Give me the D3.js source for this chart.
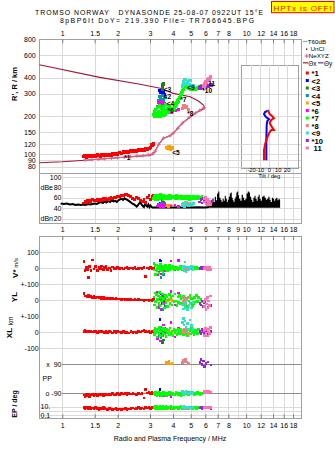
<!DOCTYPE html>
<html><head><meta charset="utf-8">
<script src="https://cdn.jsdelivr.net/npm/d3@7"></script>
<style>
body{margin:0;background:#fff;}
svg{display:block;}
text{font-family:"Liberation Sans",Arial,sans-serif;white-space:pre;}
</style>
</head><body>
<svg id="c" width="335" height="451"></svg>
<script>
// ---------------- DATA ----------------
const seriesLabels = ["*1","<2","<3","<4","<5","*6","*7","*8","<9","*10","11"];
const topTicks = [1,1.5,2,3,4,5,6,7,8,10,12,14,16,18];
const midTicks = [1,1.5,2,3,4,5,6,7,8,9,10,12,14,16,18];
const gridFreqs = [1,1.5,2,3,4,5,6,7,8,9,10,12,14,16,18];
const heightTicks = [800,600,400,300,200,150,120,100,90,80];
const dbTicks = [100,80,60,40,20];
const tiltTicks = [-20,-10,0,10,20];

const freqMHz = [
 [1.31,1.33,1.35,1.37,1.39,1.41,1.43,1.46,1.49,1.52,1.55,1.58,1.61,1.64,1.67,1.70,1.73,1.76,1.80,1.84,1.88,1.92,1.96,2.00,2.05,2.10,2.15,2.20,2.25,2.30,2.36,2.42,2.48,2.54,2.60,2.66,2.72,2.78,2.84,2.90,2.96,3.02,3.08,3.14],
 [3.4,3.44,3.48,3.52,3.56,3.6],
 [3.5,3.51,3.52,3.53,3.54],
 [3.35,3.4,3.45,3.5,3.56,3.62],
 [3.68,3.74,3.8,3.87,3.95],
 [3.3,3.35,3.4,3.45,3.5,3.55,3.6,3.9,4.1,4.3],
 [3.15,3.18,3.2,3.22,3.25,3.28,3.3,3.33,3.36,3.38,3.4,3.43,3.46,3.5,3.53,3.56,3.6,3.63,3.66,3.7,3.74,3.78,3.82,3.86,3.9,3.95,4.0,4.05,4.1,4.15,4.2,4.25,4.3,4.34,4.38,4.42,4.45,4.5,4.55,4.58,4.62,4.66,4.7,4.75,4.8,4.85,4.9,4.95,5.0,5.05,5.1,5.15,5.2,5.25,5.3,5.38,5.45,5.52,5.6,5.68,5.75],
 [4.5,4.55,4.6,4.68,4.75,4.85],
 [4.5,4.55,4.6,4.65,4.72,4.8,4.88,4.95,5.05,5.15],
 [5.6,5.68,5.75,5.85,5.95,6.05,6.2,6.45],
 [5.9,5.95,6.0,6.05,6.1,6.15,6.2,6.25,6.3,6.38]
];
const heightKm = [
 [96,97,95,97,96,98,97,96,98,97,99,98,97,99,98,100,99,98,100,99,101,100,102,101,103,102,104,103,105,104,106,105,107,106,108,107,109,108,110,109,111,113,118,121],
 [318,305,312,296,308,292],
 [322,332,342,352,360],
 [262,285,270,290,268,280],
 [113,111,114,110,112],
 [235,255,240,260,245,230,250,215,220,225],
 [205,215,198,225,210,200,232,218,205,240,212,198,228,215,203,235,222,208,245,218,228,212,235,222,230,226,223,230,238,248,255,262,268,276,285,295,305,315,325,335,345,350,355,348,338,334,330,328,325,322,328,334,330,326,325,330,332,336,338,342,346],
 [228,235,240,232,238,226],
 [345,370,355,385,360,375,350,380,342,348],
 [332,338,335,342,340,348,345,350],
 [345,360,352,372,365,385,378,395,390,405]
];
const ampDb = [
 [50,53,51,54,52,55,53,56,54,55,57,54,56,55,58,56,59,57,58,60,59,61,60,62,63,65,64,67,66,64,62,58,57,60,58,55,53,57,51,60,64,56,62,65],
 [50,62,48,55,52,58],
 [52,55,50,53,51],
 [48,45,50,47,46,49],
 [44,46,43,45,44],
 [44,46,43,48,45,42,47,44,46,43],
 [58,62,56,64,60,57,65,59,61,63,58,66,60,62,57,64,61,59,63,60,62,58,65,61,59,63,60,62,58,61,64,59,62,60,63,58,61,59,62,60,63,58,61,59,62,60,57,63,58,61,59,62,60,58,61,59,62,60,58,60,62],
 [48,50,46,52,47,49],
 [45,50,43,48,52,46,44,50,47,49],
 [52,56,50,58,54,51,55,53],
 [58,52,60,48,55,46,57,50,53,47]
];
const vStar = [
 [41,-12,5,-8,-56,10,-15,52,-5,12,-15,6,-3,15,-8,4,10,-6,2,-12,8,0,-4,6,-2,3,-5,1,4,-3,2,-1,5,-4,0,3,-2,4,-52,1,-3,6,-2,3],
 [50,45,-10,5,0,8],
 [0,8,-5,3,-2],
 [-30,10,-56,5,-40,-15],
 [2,-4,3,0,-2],
 [-42,-25,10,-35,15,-15,5,45,-10,48],
 [30,-10,15,-38,20,-15,0,10,-30,8,-8,25,-12,3,-25,12,-3,18,-6,7,-14,2,16,-9,4,-4,11,-7,6,-2,9,-11,3,-5,13,-3,5,-8,2,6,-4,8,-2,3,-6,4,-3,7,-5,2,-4,6,-2,5,-3,4,-1,3,-5,2,0],
 [5,-3,8,-6,2,0],
 [-5,10,-15,40,-20,8,-10,0,12,-8],
 [0,5,-3,8,-2,4,6,-4],
 [2,-5,6,-3,0,-8,4,-2,5,-6]
];
const yLoc = [
 [42,27,25,22,28,20,24,18,22,16,19,14,17,12,15,11,13,9,12,8,10,7,9,6,8,5,7,4,6,3,5,2,4,1,3,0,2,-1,1,0,-2,2,-4,5],
 [10,40,-20,5,-8,12],
 [5,-10,15,0,-5],
 [-50,-30,10,-60,-20,-40],
 [0,-5,4,2,-3],
 [50,-40,20,-60,35,-20,10,55,-30,45],
 [20,-30,45,-10,35,-45,5,25,-20,50,-35,15,-5,40,-25,10,-50,30,-15,20,-40,0,35,-20,15,-30,25,-10,40,-5,-35,20,-15,30,-25,10,-20,15,-10,25,-30,5,-15,10,-40,20,-5,30,-20,12,-35,8,-25,18,-12,28,-8,15,-18,5,-10],
 [20,-10,10,-25,5,15],
 [-30,-55,-20,-45,-10,-60,-35,-25,-50,-15],
 [-20,-30,-5,-40,-15,-25,-45,-35],
 [-10,-40,5,-60,-25,15,-50,-5,-35,25]
];
const xLoc = [
 [5,8,3,6,2,7,4,0,5,2,-3,4,1,6,0,-4,3,-2,5,0,-5,2,-3,4,-1,-4,2,-2,0,-5,3,-3,1,-2,4,0,6,10,2,-1,3,-4,5,0],
 [77,-10,20,5,-5,10],
 [-68,-60,-55,-65,-50],
 [-20,15,-35,5,-10,25],
 [3,-2,5,0,-4],
 [-40,20,-55,30,-20,45,-10,60,-30,25],
 [10,-15,25,-5,15,-30,0,20,-10,30,-20,5,-25,15,-8,22,-12,8,-28,18,-5,12,-18,25,-10,5,-22,15,-3,10,-15,20,-8,3,-12,18,-6,10,-14,6,-2,12,-8,4,-20,16,-5,9,-12,22,-7,3,-15,11,-4,8,-10,14,-6,2,5],
 [10,-5,20,0,15,-10],
 [60,85,45,70,30,55,20,75,40,15],
 [5,-10,15,0,-5,10,-15,5],
 [10,-20,25,-5,15,-25,5,20,-10,30]
];
const polPP = [
 [-100,-108,-96,-104,-98,-110,-101,-97,-106,-99,-103,-95,-100,-97,-104,-99,-95,-101,-97,-99,-93,-100,-96,-92,-98,-90,-95,-93,-97,-90,-95,-92,-94,-97,-90,-94,-92,-118,-66,-88,-84,-92,-86,-94],
 [-66,-92,-88,-95,-90,-97],
 [-95,-90,-100,-92,-96],
 [-95,-90,-100,-92,-97,-88],
 [100,95,108,92,96],
 [-100,-95,-105,-98,-92,-103,-97,-110,-96,-101],
 [-88,-95,-100,-85,-92,-105,-90,-97,-83,-99,-94,-87,-102,-91,-96,-86,-100,-93,-89,-104,-92,-97,-85,-95,-90,-101,-88,-94,-99,-86,-93,-91,-97,-88,-95,-102,-90,-93,-87,-96,-92,-89,-95,-91,-84,-98,-90,-93,-86,-95,-89,-92,-97,-88,-94,-90,-85,-93,-96,-89,-92],
 [100,115,108,121,105,96],
 [-80,-90,-85,-95,-78,-88,-92,-83,-90,-86],
 [100,121,90,110,75,95,105,85],
 [-82,-78,-85,-80,-88,-76,-83,-79,-86,-81]
];
const epDeg = [
 [6,4,8,5,3,7,4,5,3,6,4,2,5,3,6,4,3,2,4,3,2,3,4,2,3,2,3,4,2,3,4,5,3,4,6,4,5,3,6,5,7,4,6,8],
 [5,6,4,7,5,6],
 [5,6,4,5,6],
 [5,4,6,5,3,4],
 [5,4,6,5,4],
 [4,6,3,5,7,4,5,3,6,4],
 [8,5,12,4,7,10,3,6,9,5,11,4,7,6,10,3,8,5,12,4,7,9,5,6,10,4,8,3,7,5,9,6,4,8,5,10,6,4,7,5,8,6,9,5,7,4,6,8,5,9,4,6,7,5,8,4,6,9,5,7,6],
 [6,5,7,4,6,5],
 [8,6,10,5,9,7,6,8,5,7],
 [5,7,4,6,8,5,6,4],
 [6,8,5,9,7,6,8,5,7,6]
];
// trace annotation anchors (freq MHz, height km)
const labelFreq = [2.17,3.56,3.56,3.7,3.96,3.74,4.38,4.78,4.78,5.77,6.22];
const labelHeight = [90,270,306,238,99,213,258,200,322,305,342];

// model profile (maroon) and NeXYZ profile (pink)
const profileFreq = [0.75,1.0,1.33,2.0,3.0,3.15,3.35,3.55,3.86,4.0,4.5,5.3,5.9,5.94,5.86,5.5,4.96,4.02,3.41,2.65,1.6,0.75];
const profileHeight = [86,87.5,90,94,98,102,120,134,140,146,176,211,228,232,244,262,283,301,330,355,402,505];
const neFreq = [1.33,1.45,1.57,1.7,1.85,2.0,2.17,2.35,2.55,2.75,2.95,3.1,3.2,3.35,3.55,3.86,4.0,4.25,4.5,4.9,5.3,5.6,5.9];
const neHeight = [90,90.8,91.6,92.4,93.2,94,95,96,97,98,99,101,106,120,134,140,146,160,176,195,211,222,232];

// tilt profiles
const thetaXHeight = [90,108,122,136,148,155,155,167,177,186,192,200,207,216,223];
const thetaXDeg = [-5.9,-5.9,-4.4,-2.2,0,2.2,5.2,2.2,0.4,2.2,5.2,3.0,0.4,-0.7,-2.2];
const thetaYHeight = [90,130,170,183,189,196,207,215,219];
const thetaYDeg = [-3.3,-3.3,-2.9,-2.2,-0.3,-3.7,-5.9,-4.8,-2.2];

// noise (black)
const noiseFreq = [0.98,1.02,1.06,1.1,1.14,1.18,1.22,1.26,1.3,1.34,1.38,1.42,1.46,1.5,1.54,1.58,1.62,1.66,1.7,1.74,1.78,1.82,1.86,1.9,1.94,1.98,2.02,2.06,2.1,2.14,2.18,2.22,2.26,2.3,2.34,2.38,2.42,2.46,2.5,2.54,2.58,2.62,2.66,2.7,2.74,2.78,2.82,2.86,2.9,2.94,2.98,3.02,3.06,3.1,3.2,3.5,4.0,4.5,5.0,5.5,6.0,6.3];
const noiseDb = [49,48,49,47,48,46,47,46,47,46,48,47,48,49,48,50,52,50,53,51,54,52,55,53,54,52,55,57,58,56,59,57,56,54,52,50,48,47,45,43,46,49,51,47,44,42,48,45,43,47,42,45,42,41,41,41.5,41,41.5,41,41.5,41,42];
const spikeFreq = [6.3,6.45,6.55,6.65,6.75,6.85,6.95,7.05,7.15,7.25,7.35,7.45,7.55,7.65,7.75,7.85,7.95,8.05,8.15,8.25,8.35,8.45,8.55,8.65,8.75,8.85,8.95,9.05,9.15,9.3,9.45,9.6,9.75,9.9,10.05,10.2,10.35,10.5,10.65,10.8,10.95,11.1,11.25,11.4,11.55,11.7,11.85,12.0,12.2,12.4,12.6,12.8,13.0,13.2,13.4,13.6,13.8,14.0,14.2,14.4,14.6,14.8,15.0,15.2,15.3];
const spikeDb = [44,50,58,52,62,55,68,72,60,56,52,58,54,64,58,52,56,62,68,70,60,55,52,58,62,70,72,65,58,54,66,60,55,58,68,72,70,62,56,52,60,64,58,54,62,66,58,54,62,64,60,56,58,62,56,52,60,58,54,58,60,55,58,56,42];

// ---------------- STYLE ----------------
const seriesColors = ["#ff0000","#0000ff","#208020","#009a9a","#ffa000","#ff00ff","#00ff00","#f08080","#30e0d0","#9820e0","#ff70b0"];
const GRID = "#dadada", BOX = "#a0a0a0", TXT = "#000";

// ---------------- CHART ----------------
const svg = d3.select("#c");
svg.append("rect").attr("width",335).attr("height",451).attr("fill","#fff");
const px = v => Math.round(v) + 0.5;

const L = 39.3, R = 301.5;
const topY = 39.3, sepY = 172.5, dbBot = 223, lowTop = 236, lowBot = 418.3;

const x = d3.scaleLog().domain([0.75, 20]).range([L, R]);
const yMain = d3.scaleLog().domain([80, 800]).range([166.7, 39.3]);
const yDb = d3.scaleLinear().domain([20, 100]).range([218.5, 177]);
const yV = d3.scaleLinear().domain([-100, 100]).range([284.3, 252.3]);
const yYL = d3.scaleLinear().domain([-100, 100]).range([316, 284.3]);
const yXL = d3.scaleLinear().domain([-100, 100]).range([348, 316]);
const yPP = d3.scaleLinear().domain([-90, 90]).range([393.3, 364.3]);
const yEP = d3.scaleLog().domain([0.1, 10]).range([415.3, 406.7]);
const xTilt = d3.scaleLinear().domain([-20, 20]).range([251.3, 287.3]);

const g = svg.append("g");

[[topY, dbBot], [lowTop, lowBot]].forEach(([a, b]) => {
  g.selectAll(null).data(gridFreqs).enter().append("line")
    .attr("x1", d => px(x(d))).attr("x2", d => px(x(d)))
    .attr("y1", a).attr("y2", b).attr("stroke", GRID).attr("stroke-width", 1);
});
g.selectAll(null).data(heightTicks).enter().append("line")
  .attr("x1", L).attr("x2", R).attr("y1", d => px(yMain(d))).attr("y2", d => px(yMain(d)))
  .attr("stroke", GRID);
g.selectAll(null).data(dbTicks).enter().append("line")
  .attr("x1", 62).attr("x2", R).attr("y1", d => px(yDb(d))).attr("y2", d => px(yDb(d)))
  .attr("stroke", GRID);
const lowLines = [yV(100), yV(0), yV(-100), yYL(0), yXL(0), yXL(-100), yEP(10), yEP(1), yEP(0.1)];
g.selectAll(null).data(lowLines).enter().append("line")
  .attr("x1", L).attr("x2", R).attr("y1", d => px(d)).attr("y2", d => px(d)).attr("stroke", GRID);
g.selectAll(null).data([90, -90]).enter().append("line")
  .attr("x1", 62).attr("x2", R).attr("y1", d => px(yPP(d))).attr("y2", d => px(yPP(d)))
  .attr("stroke", "#8c8c8c");

g.append("rect").attr("x", px(L)).attr("y", px(topY)).attr("width", Math.round(R - L)).attr("height", Math.round(dbBot - topY))
  .attr("fill", "none").attr("stroke", BOX);
g.append("line").attr("x1", L).attr("x2", R).attr("y1", px(sepY)).attr("y2", px(sepY)).attr("stroke", BOX);
g.append("rect").attr("x", px(L)).attr("y", px(lowTop)).attr("width", Math.round(R - L)).attr("height", Math.round(lowBot - lowTop))
  .attr("fill", "none").attr("stroke", BOX);

function styleAxis(sel) {
  sel.select(".domain").remove();
  sel.attr("font-family", "Liberation Sans, Arial, sans-serif").attr("font-size", 7);
  sel.selectAll("line").attr("stroke", "#808080");
  sel.selectAll("text").attr("fill", TXT);
}
const fmt = d => String(d);
svg.append("g").attr("transform", `translate(0,${topY})`)
  .call(d3.axisTop(x).tickValues(topTicks).tickFormat(fmt).tickSizeOuter(0).tickSizeInner(-4).tickPadding(3.6)).call(styleAxis);
svg.append("g").attr("transform", `translate(0,${lowTop})`)
  .call(d3.axisTop(x).tickValues(midTicks).tickFormat(fmt).tickSizeOuter(0).tickSizeInner(-4).tickPadding(4.4)).call(styleAxis);
svg.append("g").attr("transform", `translate(0,${lowBot})`)
  .call(d3.axisBottom(x).tickValues(topTicks).tickFormat(fmt).tickSizeOuter(0).tickSizeInner(-4).tickPadding(4.6)).call(styleAxis);
svg.append("g").attr("transform", `translate(${L},0)`)
  .call(d3.axisLeft(yMain).tickValues(heightTicks).tickFormat(fmt).tickSize(0).tickPadding(3.6)).call(styleAxis);

function txt(s, xx, yy, opt = {}) {
  const t = svg.append("text").attr("x", xx).attr("y", yy).text(s)
    .attr("font-size", opt.size || 7).attr("fill", opt.fill || TXT)
    .attr("text-anchor", opt.anchor || "start");
  if (opt.weight) t.attr("font-weight", opt.weight);
  if (opt.family) t.attr("font-family", opt.family);
  if (opt.rot) t.attr("transform", `rotate(-90,${xx},${yy})`);
  if (opt.len) t.attr("textLength", opt.len);
  return t;
}
dbTicks.forEach(d => txt(String(d), 61.5, yDb(d) + 2.5, {anchor: "end"}));
txt("dBe", 40.5, yDb(80) + 2.5);
txt("dBn", 40.5, yDb(20) + 2.5);
txt("100", 38.6, yV(100) + 2.5, {anchor: "end"});
txt("0", 38.6, yV(0) + 2.5, {anchor: "end"});
txt("+-100", 38.6, yV(-100) + 2.5, {anchor: "end"});
txt("0", 38.6, yYL(0) + 2.5, {anchor: "end"});
txt("+-100", 38.6, yXL(100) + 2.5, {anchor: "end"});
txt("0", 38.6, yXL(0) + 2.5, {anchor: "end"});
txt("-100", 38.6, yXL(-100) + 2.5, {anchor: "end"});
txt("x  90", 61.5, yPP(90) + 2.5, {anchor: "end"});
txt("PP", 42.5, yPP(0) + 2.5);
txt("o -90", 61.5, yPP(-90) + 2.5, {anchor: "end"});
txt("10.", 40.5, yEP(10) + 2.5);
txt("0.1", 40.5, yEP(0.1) + 2.5);

txt("R', R / km", 17, 84, {rot: true, anchor: "middle", weight: "bold", size: 7.5});
const vs = svg.append("text").attr("transform", "rotate(-90,18,268)").attr("x", 18).attr("y", 268)
  .attr("text-anchor", "middle").attr("fill", TXT);
vs.append("tspan").text("V*").attr("font-size", 8).attr("font-weight", "bold");
vs.append("tspan").text(" m/s").attr("font-size", 6);
txt("YL", 17, 297, {rot: true, anchor: "middle", weight: "bold", size: 8});
txt("km", 13, 321, {rot: true, anchor: "middle", size: 6.5});
txt("XL", 12, 333, {rot: true, anchor: "middle", weight: "bold", size: 8});
txt("EP / deg", 16.5, 404, {rot: true, anchor: "middle", weight: "bold", size: 7});
txt("Radio and Plasma Frequency / MHz", 170, 440.5, {anchor: "middle", size: 7});

// ---------- main panel data ----------
const defs = svg.append("defs");
defs.append("clipPath").attr("id", "cm").append("rect")
  .attr("x", L).attr("y", topY).attr("width", R - L).attr("height", sepY - topY);
defs.append("clipPath").attr("id", "cl").append("rect")
  .attr("x", L).attr("y", lowTop).attr("width", R - L).attr("height", lowBot - lowTop);
const gm = svg.append("g").attr("clip-path", "url(#cm)");

const line = d3.line();
gm.append("path").attr("d", line(profileFreq.map((f, i) => [x(f), yMain(profileHeight[i])])))
  .attr("fill", "none").attr("stroke", "#a01838").attr("stroke-width", 1.1);
gm.append("path").attr("d", line(neFreq.map((f, i) => [x(f), yMain(neHeight[i])])))
  .attr("fill", "none").attr("stroke", "#e0608a").attr("stroke-width", 1.1);
neFreq.forEach((f, i) => {
  const cx = x(f), cy = yMain(neHeight[i]);
  gm.append("path").attr("d", `M${cx - 1.8},${cy}H${cx + 1.8}M${cx},${cy - 1.8}V${cy + 1.8}`)
    .attr("stroke", "#e0608a").attr("stroke-width", 1);
});

const points = [];
freqMHz.forEach((arr, s) => arr.forEach((f, i) => points.push({
  s, f, h: heightKm[s][i], db: ampDb[s][i], v: vStar[s][i], yl: yLoc[s][i], xl: xLoc[s][i], pp: polPP[s][i], ep: epDeg[s][i]
})));

function drawPts(parent, yfun, size) {
  parent.selectAll(null).data(points).enter().append("rect")
    .attr("x", d => x(d.f) - size / 2).attr("y", d => yfun(d) - size / 2)
    .attr("width", size).attr("height", size)
    .attr("fill", d => seriesColors[d.s]).attr("shape-rendering", "crispEdges");
}
drawPts(gm, d => yMain(d.h), 3.4);

seriesLabels.forEach((lab, s) => {
  svg.append("text").attr("x", x(labelFreq[s])).attr("y", yMain(labelHeight[s]))
    .text(lab).attr("font-size", 6.6).attr("font-weight", "bold").attr("fill", TXT);
});

// ---------- dB panel ----------
const gd = svg.append("g");
gd.append("path").attr("d", line(noiseFreq.map((f, i) => [x(f), yDb(noiseDb[i])])))
  .attr("fill", "none").attr("stroke", "#000").attr("stroke-width", 2);
gd.append("path").attr("d", d3.area().curve(d3.curveStepAfter)
    .x(d => d[0]).y0(yDb(40.5)).y1(d => d[1])(spikeFreq.map((f, i) => [x(f), yDb(spikeDb[i])])))
  .attr("fill", "#000");
drawPts(gd, d => yDb(d.db), 2.8);

// ---------- lower panel ----------
const gl = svg.append("g").attr("clip-path", "url(#cl)");
drawPts(gl, d => yV(d.v), 2.6);
drawPts(gl, d => yYL(d.yl), 2.6);
drawPts(gl, d => yXL(d.xl), 2.6);
drawPts(gl, d => yPP(d.pp), 2.6);
drawPts(gl, d => yEP(d.ep), 2.6);

// ---------- inset tilt ----------
const ix0 = 241.3, ix1 = 298, iy0 = 65, iy1 = 168.3;
const gi = svg.append("g");
gi.append("rect").attr("x", px(ix0)).attr("y", px(iy0)).attr("width", Math.round(ix1 - ix0)).attr("height", Math.round(iy1 - iy0))
  .attr("fill", "#fff").attr("stroke", BOX);
gi.selectAll(null).data(tiltTicks).enter().append("line")
  .attr("x1", d => px(xTilt(d))).attr("x2", d => px(xTilt(d))).attr("y1", iy0).attr("y2", iy1).attr("stroke", GRID);
gi.selectAll(null).data(heightTicks.filter(h => yMain(h) > iy0 && yMain(h) < iy1)).enter().append("line")
  .attr("x1", ix0).attr("x2", ix1).attr("y1", d => px(yMain(d))).attr("y2", d => px(yMain(d))).attr("stroke", GRID);
gi.append("path").attr("d", line(thetaYDeg.map((t, i) => [xTilt(t), yMain(thetaYHeight[i])])))
  .attr("fill", "none").attr("stroke", "#0000ff").attr("stroke-width", 2);
gi.append("path").attr("d", line(thetaXDeg.map((t, i) => [xTilt(t), yMain(thetaXHeight[i])])))
  .attr("fill", "none").attr("stroke", "#ff0000").attr("stroke-width", 2);
txt("-20-10", 255.8, 171.8, {anchor: "middle", size: 5.8});
[0, 10, 20].forEach(t => txt(String(t), xTilt(t), 171.8, {anchor: "middle", size: 5.8}));
txt("Tilt / deg", 269.3, 177.6, {anchor: "middle", size: 5.8});

// ---------- legend ----------
svg.append("line").attr("x1", 303).attr("x2", 307.5).attr("y1", 41.5).attr("y2", 41.5).attr("stroke", "#a0a0a0").attr("stroke-width", 1.2);
txt("T60dB", 307.8, 43.8, {size: 6.2});
svg.append("rect").attr("x", 306).attr("y", 48.5).attr("width", 1.3).attr("height", 1.3).attr("fill", "#000");
txt("UnCl", 310.5, 51.2, {size: 6.2});
svg.append("path").attr("d", "M304.5,56H309M306.75,53.8V58.2").attr("stroke", "#e0608a").attr("stroke-width", 1);
txt("NeXYZ", 308.8, 58.4, {size: 6.2});
svg.append("line").attr("x1", 303).attr("x2", 308).attr("y1", 62.8).attr("y2", 62.8).attr("stroke", "#a01838").attr("stroke-width", 1.2);
txt("Θx", 308.3, 65.6, {size: 6.4});
svg.append("line").attr("x1", 318).attr("x2", 323.5).attr("y1", 62.8).attr("y2", 62.8).attr("stroke", "#4040c0").attr("stroke-width", 1.2);
txt("Θy", 324, 65.6, {size: 6.4});
seriesLabels.forEach((lab, s) => {
  const cy = 73 + 7.5 * s;
  svg.append("rect").attr("x", 305.8).attr("y", cy - 1.5).attr("width", 3).attr("height", 3).attr("fill", seriesColors[s]);
  txt(s === 10 ? " " + lab : lab, 311.5, cy + 3, {size: 7.6, weight: "bold"});
});

// ---------- title ----------
txt("TROMSO NORWAY   DYNASONDE 25-08-07 0922UT 15°E", 35, 14.6, {family: "DejaVu Sans Mono", size: 6.9, len: 228});
txt("8pBP6It DoY= 219.390 File= TR766645.BPG", 60, 22.6, {family: "DejaVu Sans Mono", size: 6.9, len: 194});
svg.append("rect").attr("x", 271.5).attr("y", 1.5).attr("width", 62.5).attr("height", 11.2).attr("fill", "#ffff00").attr("stroke", "#ff0000");
txt("HPTx is OFF!", 273.5, 10.5, {family: "DejaVu Sans Mono", size: 8, fill: "#ff0000", len: 58});
</script>
</body></html>
